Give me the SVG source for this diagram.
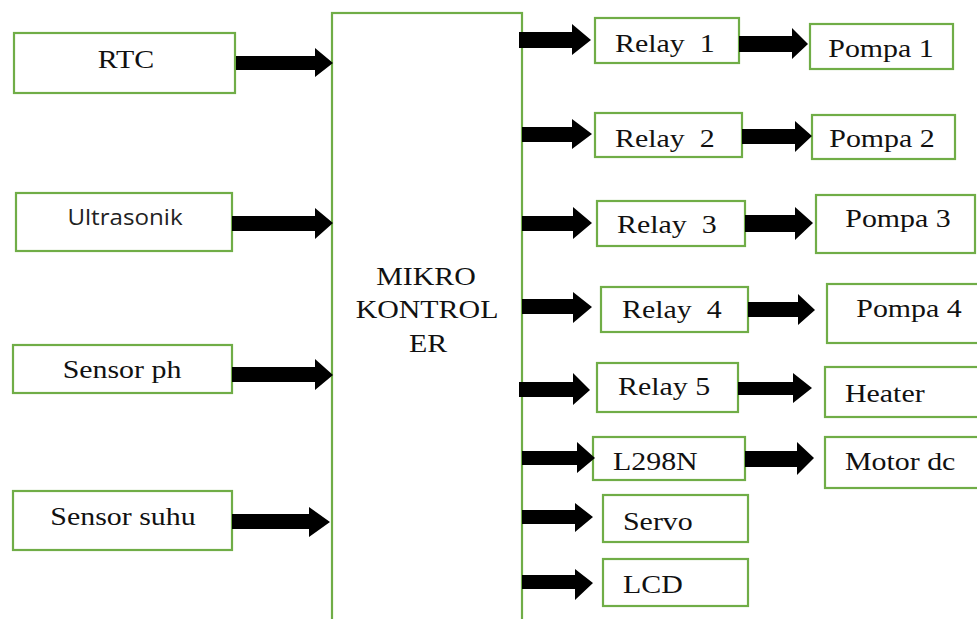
<svg xmlns="http://www.w3.org/2000/svg" width="977" height="619" viewBox="0 0 977 619">
<style>
.box{fill:#fff;stroke:#70ad47;stroke-width:2.2}
.t{font-family:'Liberation Serif',serif;font-size:26px;fill:#111}
.s{font-family:'Open Sans',sans-serif;font-size:21px;fill:#222}
.m{text-anchor:middle}
.arr{fill:#000}
</style>
<rect width="977" height="619" fill="#fff"/>
<g id="rtc"><rect class="box" x="14" y="33" width="221" height="60"/><text class="t m" transform="translate(126,68) scale(1.15,1)">RTC</text></g>
<g id="ultrasonik"><rect class="box" x="16" y="193" width="216" height="58"/><text class="s m" transform="translate(125,225) scale(1.15,1)">Ultrasonik</text></g>
<g id="sensor-ph"><rect class="box" x="13" y="345" width="219" height="48"/><text class="t m" transform="translate(122,378) scale(1.15,1)">Sensor ph</text></g>
<g id="sensor-suhu"><rect class="box" x="13" y="491" width="219" height="59"/><text class="t m" transform="translate(123,525) scale(1.15,1)">Sensor suhu</text></g>
<g id="mikrokontroler"><rect class="box" x="332" y="13" width="190" height="640"/>
<text class="t m" transform="translate(426,285) scale(1.15,1)">MIKRO</text>
<text class="t m" transform="translate(427,318) scale(1.15,1)">KONTROL</text>
<text class="t m" transform="translate(428,352) scale(1.15,1)">ER</text></g>
<g id="relay1"><rect class="box" x="595" y="18" width="144" height="45"/><text class="t" xml:space="preserve" transform="translate(615,52) scale(1.15,1)">Relay  1</text></g>
<g id="relay2"><rect class="box" x="595" y="113" width="147" height="44"/><text class="t" xml:space="preserve" transform="translate(615,147) scale(1.15,1)">Relay  2</text></g>
<g id="relay3"><rect class="box" x="597" y="201" width="148" height="45"/><text class="t" xml:space="preserve" transform="translate(617,233) scale(1.15,1)">Relay  3</text></g>
<g id="relay4"><rect class="box" x="601" y="287" width="147" height="45"/><text class="t" xml:space="preserve" transform="translate(622,318) scale(1.15,1)">Relay  4</text></g>
<g id="relay5"><rect class="box" x="597" y="363" width="141" height="49"/><text class="t" transform="translate(618,395) scale(1.15,1)">Relay 5</text></g>
<g id="l298n"><rect class="box" x="593" y="437" width="152" height="43"/><text class="t" transform="translate(613,470) scale(1.15,1)">L298N</text></g>
<g id="servo"><rect class="box" x="603" y="495" width="145" height="47"/><text class="t" transform="translate(623,530) scale(1.15,1)">Servo</text></g>
<g id="lcd"><rect class="box" x="603" y="559" width="145" height="47"/><text class="t" transform="translate(623,593) scale(1.15,1)">LCD</text></g>
<g id="pompa1"><rect class="box" x="810" y="24" width="143" height="45"/><text class="t m" transform="translate(881,57) scale(1.15,1)">Pompa 1</text></g>
<g id="pompa2"><rect class="box" x="812" y="115" width="143" height="44"/><text class="t m" transform="translate(882,147) scale(1.15,1)">Pompa 2</text></g>
<g id="pompa3"><rect class="box" x="816" y="195" width="159" height="58"/><text class="t m" transform="translate(898,227) scale(1.15,1)">Pompa 3</text></g>
<g id="pompa4"><rect class="box" x="827" y="284" width="170" height="59"/><text class="t m" transform="translate(909,317) scale(1.15,1)">Pompa 4</text></g>
<g id="heater"><rect class="box" x="825" y="367" width="170" height="50"/><text class="t" transform="translate(845,402) scale(1.15,1)">Heater</text></g>
<g id="motor-dc"><rect class="box" x="825" y="437" width="170" height="51"/><text class="t" transform="translate(845,470) scale(1.15,1)">Motor dc</text></g>
<g id="connectors" class="arr">
<path d="M236 56H315V48L333 63L315 77V70H236Z"/>
<path d="M232 216H315V208L333 223L315 239V231H232Z"/>
<path d="M232 367H315V359L333 375L315 390V382H232Z"/>
<path d="M232 514H309V507L330 522L309 537V529H232Z"/>
<path d="M519 32H572V24L591 40L572 55V48H519Z"/>
<path d="M522 127H572V119L592 134L572 149V142H522Z"/>
<path d="M522 216H573V207L592 223L573 239V231H522Z"/>
<path d="M522 299H573V292L592 307L573 323V314H522Z"/>
<path d="M519 382H573V373L590 390L573 405V397H519Z"/>
<path d="M522 451H577V442L595 458L577 473V465H522Z"/>
<path d="M522 510H575V503L593 517L575 532V524H522Z"/>
<path d="M522 575H575V569L593 583L575 600V589H522Z"/>
<path d="M739 36H792V28L808 44L792 59V52H739Z"/>
<path d="M742 129H795V121L812 136L795 152V144H742Z"/>
<path d="M745 215H795V207L813 223L795 240V232H745Z"/>
<path d="M748 302H798V294L815 310L798 325V317H748Z"/>
<path d="M738 382H793V373L812 388L793 403V395H738Z"/>
<path d="M745 451H797V442L814 458L797 475V467H745Z"/>
</g>
</svg>
